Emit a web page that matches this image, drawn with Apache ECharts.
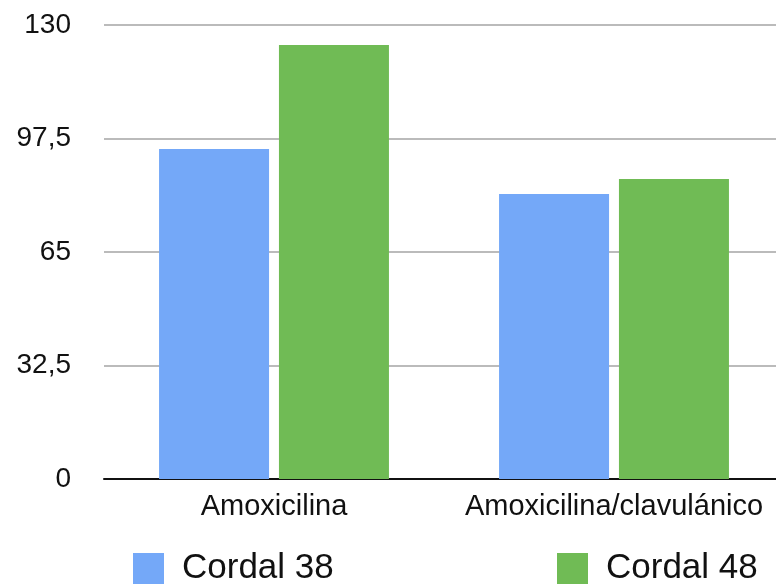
<!DOCTYPE html>
<html>
<head>
<meta charset="utf-8">
<script src="https://cdn.jsdelivr.net/npm/echarts@6/dist/echarts.min.js"></script>
<style>html,body{margin:0;padding:0;background:#fff;overflow:hidden}#c{width:784px;height:586px}</style>
</head>
<body>
<div id="c"></div>
<script>
const categories = ['Amoxicilina', 'Amoxicilina/clavulánico'];
const seriesNames = ['Cordal 38', 'Cordal 48'];
const cordal38 = [94.5, 81.6];
const cordal48 = [124.3, 85.9];
const yTicks = [0, 32.5, 65, 97.5, 130];

const chart = echarts.init(document.getElementById('c'), null, {renderer: 'canvas'});
const legendText = {
  fontFamily: '"Liberation Sans", Arial, sans-serif',
  fontSize: 35, color: '#111', padding: [0, 0, 0, 13]
};
chart.setOption({
  animation: false,
  grid: {left: 104, right: 0, top: 25, bottom: 107, containLabel: false},
  legend: [
    {data: [seriesNames[0]], left: 128, top: 546, itemWidth: 31, itemHeight: 31,
     icon: 'rect', textStyle: legendText},
    {data: [seriesNames[1]], left: 552, top: 546, itemWidth: 31, itemHeight: 31,
     icon: 'rect', textStyle: legendText}
  ],
  xAxis: {
    type: 'category', data: categories,
    axisLine: {lineStyle: {color: '#111', width: 2}},
    axisTick: {show: false},
    axisLabel: {fontFamily: '"Liberation Sans", Arial, sans-serif', fontSize: 29, color: '#111',
      margin: 13, interval: 0, hideOverlap: false}
  },
  yAxis: {
    type: 'value', min: yTicks[0], max: yTicks[yTicks.length - 1], interval: 32.5,
    axisLine: {show: false}, axisTick: {show: false},
    splitLine: {lineStyle: {color: '#bbbbbb', width: 2}},
    axisLabel: {
      fontFamily: '"Liberation Sans", Arial, sans-serif', fontSize: 28, color: '#111', margin: 33,
      formatter: v => String(v).replace('.', ',')
    }
  },
  series: [
    {name: seriesNames[0], type: 'bar', data: cordal38, barWidth: 110, barGap: '9%',
     itemStyle: {color: '#74a8f8'}},
    {name: seriesNames[1], type: 'bar', data: cordal48, barWidth: 110,
     itemStyle: {color: '#70bb55'}}
  ]
});
</script>
</body>
</html>
